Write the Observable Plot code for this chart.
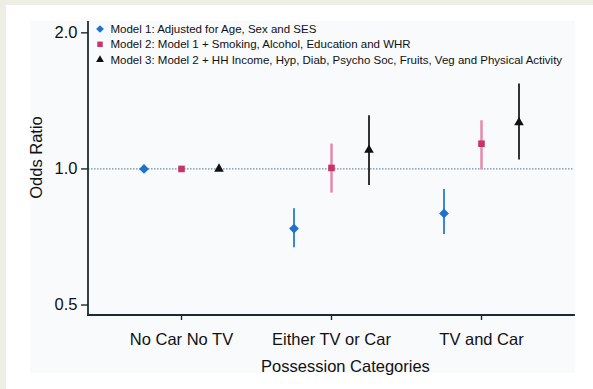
<!DOCTYPE html>
<html>
<head>
<meta charset="utf-8">
<script src="https://cdn.jsdelivr.net/npm/d3@7"></script>
<script src="https://cdn.jsdelivr.net/npm/@observablehq/plot@0.6"></script>
<style>
  html, body { margin: 0; padding: 0; }
  body { width: 593px; height: 389px; background: #eeeee4; position: relative; overflow: hidden; font-family: "Liberation Sans", Arial, sans-serif; }
  #panel { position: absolute; left: 6px; top: 5px; right: 0; bottom: 0; background: #ffffff; }
  #inner { position: absolute; left: 30px; top: 21px; width: 545px; height: 352px; background: #f9fafc; }
  #chart { position: absolute; left: 0; top: 0; }
</style>
</head>
<body>
<div id="panel"></div>
<div id="inner"></div>
<div id="chart"></div>
<script>
const categories = ["No Car No TV", "Either TV or Car", "TV and Car"];
const models = [
  "Model 1: Adjusted for Age, Sex and SES",
  "Model 2: Model 1 + Smoking, Alcohol, Education and WHR",
  "Model 3: Model 2 + HH Income, Hyp, Diab, Psycho Soc, Fruits, Veg and Physical Activity"
];
const m1 = [1.0, 0.738, 0.797];
const m1Lo = [1.0, 0.669, 0.716];
const m1Hi = [1.0, 0.816, 0.900];
const m2 = [1.0, 1.005, 1.137];
const m2Lo = [1.0, 0.884, 0.995];
const m2Hi = [1.0, 1.135, 1.278];
const m3 = [1.0, 1.101, 1.267];
const m3Lo = [1.0, 0.919, 1.047];
const m3Hi = [1.0, 1.311, 1.541];
const yTicks = [0.5, 1.0, 2.0];

const series = [
  {vals: m1, lo: m1Lo, hi: m1Hi, dx: -37.5, symbol: "diamond2", fill: "#1e72cf", bar: "#3a86d8", barW: 2, r: 4.4},
  {vals: m2, lo: m2Lo, hi: m2Hi, dx: 0, symbol: "square2", fill: "#c8346a", bar: "#e58aa8", barW: 2.5, r: 4.2},
  {vals: m3, lo: m3Lo, hi: m3Hi, dx: 37.5, symbol: "triangle2", fill: "#111111", bar: "#333333", barW: 2, r: 4.6}
];

const marks = [
  Plot.ruleY([1], {stroke: "#6d8ea8", strokeWidth: 1.2, strokeDasharray: "1.5,1.5"})
];
series.forEach(s => {
  const rows = categories.map((c, i) => ({cat: c, v: s.vals[i], lo: s.lo[i], hi: s.hi[i]}));
  marks.push(Plot.ruleX(rows.filter(d => d.hi > d.lo), {x: "cat", y1: "lo", y2: "hi", dx: s.dx, stroke: s.bar, strokeWidth: s.barW}));
  marks.push(Plot.dot(rows, {x: "cat", y: "v", dx: s.dx, symbol: s.symbol, fill: s.fill, r: s.r}));
});
marks.push(Plot.axisY({ticks: yTicks, tickFormat: d3.format(".1f"), tickSize: 7, tickPadding: 4, fontSize: 16.5, label: null, stroke: "#1c2b33", strokeWidth: 1.4, color: "#111"}));
marks.push(Plot.axisX({tickSize: 5, tickPadding: 13, fontSize: 16.5, label: null, stroke: "#1c2b33", strokeWidth: 1.4, color: "#111"}));

const plot = Plot.plot({
  width: 593,
  height: 389,
  marginLeft: 88,
  marginRight: 19,
  marginTop: 22,
  marginBottom: 74,
  style: {background: "transparent", fontFamily: "'Liberation Sans', Arial, sans-serif"},
  x: {type: "point", domain: categories, padding: 0.613},
  y: {type: "log", domain: [0.474, 2.108]},
  marks
});

const svg = d3.select(plot);
const xr = plot.scale("x").range;
const yr = plot.scale("y").range;
const x0 = Math.min(...xr), x1 = Math.max(...xr);
const y0 = Math.min(...yr), y1 = Math.max(...yr);
const axes = svg.append("g").attr("stroke", "#1c2b33").attr("stroke-width", 1.8).attr("stroke-linecap", "square");
axes.append("line").attr("x1", x0).attr("x2", x0).attr("y1", y0).attr("y2", y1);
axes.append("line").attr("x1", x0).attr("x2", x1).attr("y1", y1).attr("y2", y1);

svg.append("text")
  .attr("x", 345.5).attr("y", 371.5)
  .attr("text-anchor", "middle")
  .attr("font-size", 16.5).attr("fill", "#111")
  .text("Possession Categories");
svg.append("text")
  .attr("transform", "translate(42,157.5) rotate(-90)")
  .attr("text-anchor", "middle")
  .attr("font-size", 16.5).attr("fill", "#111")
  .text("Odds Ratio");

// legend
const sym = [d3.symbolDiamond2, d3.symbolSquare2, d3.symbolTriangle2];
const legendY = [29, 44.3, 59.7];
const lg = svg.append("g").attr("font-size", 11.5).attr("fill", "#111").attr("text-anchor", "start");
models.forEach((m, i) => {
  lg.append("path")
    .attr("transform", `translate(100,${legendY[i]})`)
    .attr("d", d3.symbol(sym[i], i === 2 ? 44 : 38)())
    .attr("fill", series[i].fill);
  lg.append("text").attr("x", 110.5).attr("y", legendY[i] + 4).attr("text-anchor", "start").text(m);
});

document.getElementById("chart").appendChild(plot);
</script>
</body>
</html>
